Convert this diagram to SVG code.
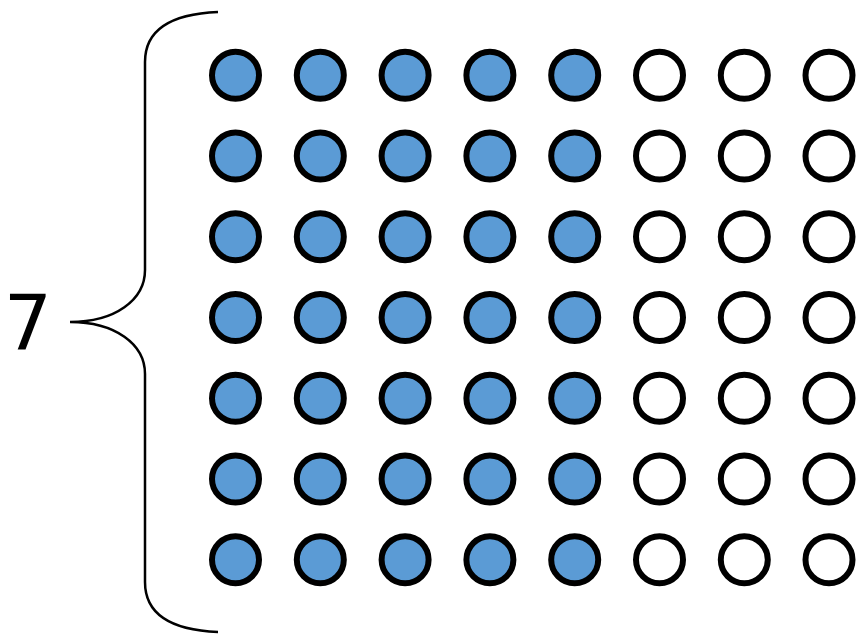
<svg xmlns="http://www.w3.org/2000/svg" width="861" height="634" viewBox="0 0 861 634">
<style>
.b{fill:#5b9bd5;stroke:#000;stroke-width:6}
.w{fill:#fff;stroke:#000;stroke-width:6}
.brace{fill:none;stroke:#000;stroke-width:2.5}
.lbl{font-family:"DejaVu Sans",sans-serif;font-size:76px;fill:#000}
</style>
<rect width="861" height="634" fill="#fff"/>
<defs>
<g id="row">
<circle class="b" cx="235.5" cy="0" r="23.5"/>
<circle class="b" cx="320.3" cy="0" r="23.5"/>
<circle class="b" cx="405.1" cy="0" r="23.5"/>
<circle class="b" cx="489.9" cy="0" r="23.5"/>
<circle class="b" cx="574.7" cy="0" r="23.5"/>
<circle class="w" cx="659.5" cy="0" r="23.5"/>
<circle class="w" cx="744.3" cy="0" r="23.5"/>
<circle class="w" cx="829" cy="0" r="23.5"/>
</g>
</defs>
<g id="brace-group">
<path class="brace" d="M218,12 C170,14 145,30 145,62 L145,270 C145,300 115,322 70,322 C115,322 145,344 145,374 L145,582 C145,614 170,630 218,632"/>
</g>
<g id="label"><text class="lbl" x="28" y="350" text-anchor="middle">7</text></g>
<g id="grid">
<use href="#row" y="75.3"/>
<use href="#row" y="156"/>
<use href="#row" y="236.8"/>
<use href="#row" y="317.5"/>
<use href="#row" y="398.2"/>
<use href="#row" y="479"/>
<use href="#row" y="559.7"/>
</g>
</svg>
